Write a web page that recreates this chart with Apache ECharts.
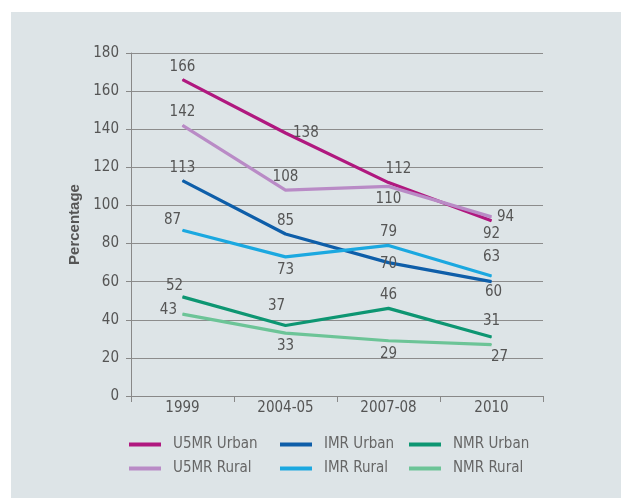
<!DOCTYPE html>
<html>
<head>
<meta charset="utf-8">
<title>Mortality rates</title>
<script src="https://cdn.jsdelivr.net/npm/echarts@6/dist/echarts.min.js"></script>
<style>
  html, body { margin: 0; padding: 0; background: #fff; }
  #panel { position: absolute; left: 11px; top: 12px; width: 610px; height: 486px; background: #dde4e7; }
  #chart { position: absolute; left: 0; top: 0; width: 621px; height: 498px; }
</style>
</head>
<body>
<div id="panel"></div>
<div id="chart"></div>
<script>
// data
var years = ["1999", "2004-05", "2007-08", "2010"];
var u5mrUrban = [166, 138, 112, 92];
var u5mrRural = [142, 108, 110, 94];
var imrUrban = [113, 85, 70, 60];
var imrRural = [87, 73, 79, 63];
var nmrUrban = [52, 37, 46, 31];
var nmrRural = [43, 33, 29, 27];
var yTicks = { min: 0, max: 180, step: 20 };

var narrow = "'Liberation Sans Narrow', 'DejaVu Sans Condensed', 'Roboto', sans-serif";

// label placement for each point (where the number sits next to the line)
function withLabels(values, places) {
  return values.map(function (v, i) {
    var p = places[i];
    return { value: v, label: { position: p[0], offset: p[1] || [0, 0] } };
  });
}

function makeLine(name, color, values, places) {
  return {
    name: name,
    type: "line",
    data: withLabels(values, places),
    symbol: "circle",
    symbolSize: 1,
    itemStyle: { color: color },
    lineStyle: { color: color, width: 3.2 },
    label: {
      show: true,
      fontFamily: narrow,
      fontSize: 15,
      color: "#555"
    },
    emphasis: { disabled: true }
  };
}

function legendAt(name, left, top) {
  return {
    data: [name],
    left: left,
    top: top,
    padding: 0,
    icon: "rect",
    itemWidth: 32,
    itemHeight: 4,
    textStyle: { fontFamily: narrow, fontSize: 15, color: "#666", padding: [0, 0, 0, 7] }
  };
}

var chart = echarts.init(document.getElementById("chart"));
var option = {
  backgroundColor: "transparent",
  animation: false,
  grid: { left: 131, right: 78, top: 53, bottom: 102 },
  legend: [
    legendAt("U5MR Urban", 129, 437),
    legendAt("U5MR Rural", 129, 461),
    legendAt("IMR Urban", 280, 437),
    legendAt("IMR Rural", 280, 461),
    legendAt("NMR Urban", 409, 437),
    legendAt("NMR Rural", 409, 461)
  ],
  xAxis: {
    type: "category",
    data: years,
    boundaryGap: true,
    axisLine: { lineStyle: { color: "#888", width: 1 } },
    axisTick: { show: true, length: 6, interval: 0, lineStyle: { color: "#888" } },
    axisLabel: { fontFamily: narrow, fontSize: 15, color: "#555", margin: 5 }
  },
  yAxis: {
    type: "value",
    min: yTicks.min,
    max: yTicks.max,
    interval: yTicks.step,
    name: "Percentage",
    nameLocation: "middle",
    nameGap: 40,
    nameTextStyle: { fontFamily: "'Liberation Sans', Arial, sans-serif", fontWeight: "bold", fontSize: 15, color: "#555" },
    axisLine: { show: true, lineStyle: { color: "#888", width: 1 } },
    axisTick: { show: true, length: 5, lineStyle: { color: "#888" } },
    axisLabel: { fontFamily: narrow, fontSize: 15, color: "#555", margin: 12 },
    splitLine: { lineStyle: { color: "#8c8c8c", width: 1 } }
  },
  series: [
    makeLine("U5MR Urban", "#b0187f", u5mrUrban,
      [["top"], ["right", [2, 0]], ["top", [10, 0]], ["bottom"]]),
    makeLine("U5MR Rural", "#b98bc6", u5mrRural,
      [["top"], ["top"], ["bottom"], ["right"]]),
    makeLine("IMR Urban", "#0e5ea9", imrUrban,
      [["top"], ["top"], ["inside", [0, 1]], ["bottom", [2, -3]]]),
    makeLine("IMR Rural", "#1ba8e0", imrRural,
      [["top", [-10, 3]], ["bottom"], ["top"], ["top", [0, -6]]]),
    makeLine("NMR Urban", "#0d9672", nmrUrban,
      [["top", [-8, 2]], ["top", [-9, -6]], ["top"], ["top", [0, -3]]]),
    makeLine("NMR Rural", "#6cc497", nmrRural,
      [["left", [0, -4]], ["bottom"], ["bottom"], ["bottom", [8, 0]]])
  ]
};
chart.setOption(option);
</script>
</body>
</html>
